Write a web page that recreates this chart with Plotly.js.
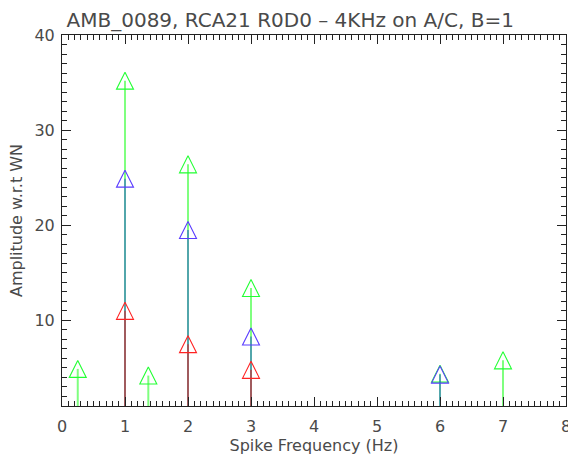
<!DOCTYPE html>
<html>
<head>
<meta charset="utf-8">
<script src="https://cdn.plot.ly/plotly-3.0.1.min.js"></script>
<style>html,body{margin:0;padding:0;background:#fff}#chart{width:568px;height:457px}</style>
</head>
<body>
<div id="chart"></div>
<script>
// Data
const greenX = [0.25, 1, 1.37, 2, 3, 6, 7];
const greenY = [4.9, 35.2, 4.2, 26.4, 13.4, 4.4, 5.8];
const blueX = [1, 2, 3, 6];
const blueY = [24.9, 19.5, 8.3, 4.3];
const redX = [1, 2, 3];
const redY = [11.0, 7.5, 4.8];
const xTicks = [0, 1, 2, 3, 4, 5, 6, 7, 8];
const yTicks = [10, 20, 30, 40];
const yMin = 1;

const FONT = 'DejaVu Sans, Liberation Sans, sans-serif';
const TXT = '#4a4a4a';

function stemTrace(xs, ys, markerColor, stemColor) {
  return {
    type: 'scatter', mode: 'markers', x: xs, y: ys,
    cliponaxis: false,
    marker: {
      symbol: 'arrow-down-open', angle: 180, standoff: 8.5, size: 17,
      color: markerColor, line: {width: 1.1, color: markerColor}
    },
    error_y: {
      type: 'data', symmetric: false,
      array: ys.map(() => 0),
      arrayminus: ys.map(v => v - yMin),
      width: 0, thickness: 2, color: stemColor
    },
    hoverinfo: 'x+y', showlegend: false
  };
}

const data = [
  stemTrace(greenX, greenY, '#22ff33', 'rgba(0,255,0,0.5)'),
  stemTrace(blueX, blueY, '#5a3cff', 'rgba(0,0,255,0.35)'),
  stemTrace(redX, redY, '#ff2222', 'rgba(255,0,0,0.45)')
];

const axisCommon = {
  showgrid: false, zeroline: false,
  showline: true, linecolor: '#222', linewidth: 1, mirror: 'ticks',
  ticks: 'inside', tickcolor: '#222', tickwidth: 1, ticklen: 9,
  ticklabeloverflow: 'allow',
  tickfont: {family: FONT, size: 16, color: TXT}
};

const layout = {
  width: 568, height: 457,
  paper_bgcolor: '#fff', plot_bgcolor: '#fff',
  margin: {l: 62, r: 2, t: 35, b: 51},
  title: {
    text: 'AMB_0089, RCA21 R0D0 \u2013 4KHz on A/C, B=1',
    font: {family: FONT, size: 20, color: TXT},
    x: 0.511, xref: 'container', xanchor: 'center',
    y: 0.957, yref: 'container', yanchor: 'middle'
  },
  xaxis: Object.assign({}, axisCommon, {
    range: [0, 8], tickvals: xTicks, ticktext: xTicks.map(String),
    minor: {dtick: 0.1, tick0: 0, ticks: 'inside', ticklen: 5, tickcolor: '#222', tickwidth: 1},
    ticklabelstandoff: 6,
    title: {text: 'Spike Frequency (Hz)', font: {family: FONT, size: 16, color: TXT}, standoff: 4}
  }),
  yaxis: Object.assign({}, axisCommon, {
    range: [yMin, 40], tickvals: yTicks, ticktext: yTicks.map(String),
    minor: {dtick: 1, tick0: 0, ticks: 'inside', ticklen: 5, tickcolor: '#222', tickwidth: 1},
    ticklabelstandoff: 3,
    title: {text: 'Amplitude w.r.t WN', font: {family: FONT, size: 16, color: TXT}, standoff: 7}
  })
};

Plotly.newPlot('chart', data, layout, {displayModeBar: false, staticPlot: true});
</script>
</body>
</html>
